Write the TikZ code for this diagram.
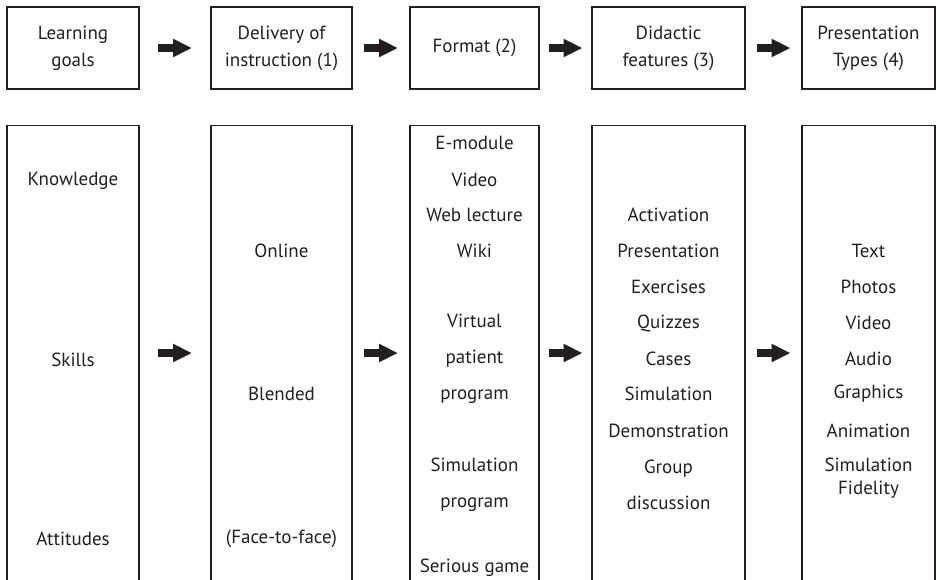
\documentclass[tikz,border=0pt]{standalone}
\usepackage{fontspec}
\setmainfont{PT Sans}
\usetikzlibrary{calc,arrows.meta}
\definecolor{ink}{HTML}{231F20}
\tikzset{
  box/.style={draw=ink, line width=1.2pt, minimum width=#1, inner sep=0pt, text=ink, align=center, font=\fontsize{19}{27}\selectfont},
  col/.style={draw=ink, line width=1.2pt, minimum width=#1, minimum height=480pt, anchor=north, inner sep=0pt},
  lbl/.style={text=ink, align=center, inner sep=0pt, font=\fontsize{19}{36}\selectfont},
  bigarrow/.style={draw=ink, line width=8pt, -{Triangle[length=19pt,width=17pt]}, shorten >=0pt}
}
\begin{document}
\begin{tikzpicture}[x=1pt,y=-1pt]
\useasboundingbox (0,0) rectangle (936,579);
\clip (0,0) rectangle (936,579);
% top row
\node[box=132pt, minimum height=82pt] (t1) at (73,48) {Learning\\goals};
\node[box=141pt, minimum height=82pt] (t2) at (281.5,48) {Delivery of\\instruction (1)};
\node[box=129pt, minimum height=82pt] (t3) at (474.5,48) {Format (2)};
\node[box=153pt, minimum height=82pt] (t4) at (668.5,48) {Didactic\\features (3)};
\node[box=133pt, minimum height=82pt] (t5) at (868.5,48) {Presentation\\Types (4)};
% bottom columns
\node[col=132pt] (c1) at (73,125) {};
\node[col=141pt] (c2) at (281.5,125) {};
\node[col=129pt] (c3) at (474.5,125) {};
\node[col=153pt] (c4) at (668.5,125) {};
\node[col=133pt] (c5) at (868.5,125) {};
% arrows top
\foreach \a/\b in {t1/t2,t2/t3,t3/t4,t4/t5}{
  \draw[bigarrow] ($(\a.east)!0.5!(\b.west)+(-17,0)$) -- ++(34,0);
}
% arrows bottom
\foreach \a/\b in {c1/c2,c2/c3,c3/c4,c4/c5}{
  \draw[bigarrow] ($(\a.north east)!0.5!(\b.north west)+(-17,228)$) -- ++(34,0);
}
% column 1
\node[lbl] (k) at (73,181) {Knowledge};
\node[lbl] (s) at (73,360) {Skills};
\node[lbl] (at) at (73,539) {Attitudes};
% column 2
\node[lbl] (on) at (281.5,251) {Online};
\node[lbl] (bl) at (281.5,394) {Blended};
\node[lbl] (ff) at (281.5,539) {(Face-to-face)};
% column 3
\node[lbl] (em) at (474.5,143) {E-module};
\node[lbl] (vi) at (474.5,180) {Video};
\node[lbl] (wl) at (474.5,215) {Web lecture};
\node[lbl] (wk) at (474.5,251) {Wiki};
\node[lbl] (vp) at (474.5,359) {Virtual\\patient\\program};
\node[lbl] (sp) at (474.5,484.5) {Simulation\\program};
\node[lbl] (sg) at (474.5,568) {Serious game};
% column 4
\node[lbl] (ac) at (668.5,215) {Activation};
\node[lbl] (pr) at (668.5,251) {Presentation};
\node[lbl] (ex) at (668.5,287) {Exercises};
\node[lbl] (qu) at (668.5,323) {Quizzes};
\node[lbl] (ca) at (668.5,359) {Cases};
\node[lbl] (si) at (668.5,394) {Simulation};
\node[lbl] (de) at (668.5,431) {Demonstration};
\node[lbl] (gd) at (668.5,484.5) {Group\\discussion};
% column 5
\node[lbl] (tx) at (868.5,251) {Text};
\node[lbl] (ph) at (868.5,287) {Photos};
\node[lbl] (vd) at (868.5,323) {Video};
\node[lbl] (au) at (868.5,359) {Audio};
\node[lbl] (gr) at (868.5,394) {Graphics};
\node[lbl] (an) at (868.5,431) {Animation};
\node[lbl, font=\fontsize{19}{23}\selectfont] (sf) at (868.5,478.5) {Simulation\\Fidelity};
\end{tikzpicture}
\end{document}
